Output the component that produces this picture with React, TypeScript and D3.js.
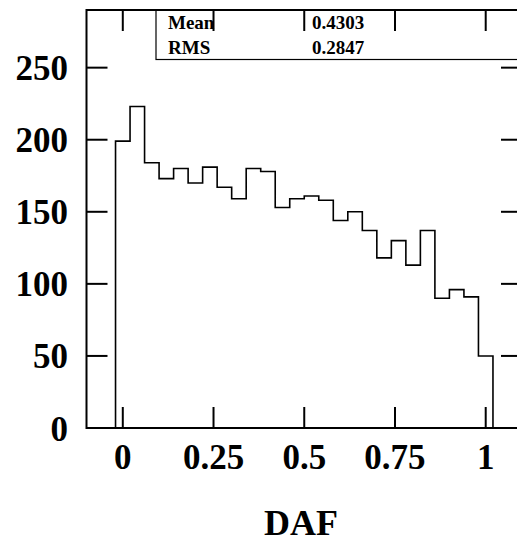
import React from "react";
import * as d3 from "d3";

// histogram of DAF, 26 bins of width 0.04 starting at -0.02
const binStart = -0.02;
const binWidth = 0.04;
const counts = [199, 223, 184, 173, 180, 170, 181, 167, 159, 180, 178, 153, 159, 161, 158, 144, 150, 137, 118, 130, 113, 137, 90, 96, 91, 50];

const xTicks = [0, 0.25, 0.5, 0.75, 1];
const xTickLabels = ["0", "0.25", "0.5", "0.75", "1"];
const yTicks = [0, 50, 100, 150, 200, 250];

const statNames = ["Mean", "RMS"];
const statValues = ["0.4303", "0.2847"];

const W = 517;
const H = 543;
const frame = { left: 86.5, right: 522, top: 10, bottom: 428 };
const font = "'Liberation Serif', 'Times New Roman', serif";

export default function App() {
  const x = d3.scaleLinear().domain([-0.1, 1.1]).range([frame.left, frame.right]);
  const y = d3.scaleLinear().domain([0, 290]).range([frame.bottom, frame.top]);

  // step outline like ROOT's histogram drawing
  const pts: [number, number][] = [[binStart, 0]];
  counts.forEach((c, i) => {
    const x0 = binStart + i * binWidth;
    pts.push([x0, c]);
    pts.push([x0 + binWidth, c]);
  });
  pts.push([binStart + counts.length * binWidth, 0]);
  const line = d3
    .line<[number, number]>()
    .x((p) => x(p[0]))
    .y((p) => y(p[1]));

  const tickLen = 21;

  return (
    <svg width={W} height={H} style={{ position: "absolute", left: 0, top: 0, background: "#fff" }}>
      <rect x={0} y={0} width={W} height={H} fill="#fff" />
      {/* stats box */}
      <rect x={156} y={frame.top} width={W} height={49.5} fill="none" stroke="#000" strokeWidth={1.2} />
      {statNames.map((n, i) => (
        <g key={n} fontFamily={font} fontWeight="bold" fontSize={19}>
          <text x={168} y={28.5 + i * 25}>{n}</text>
          <text x={312} y={28.5 + i * 25}>{statValues[i]}</text>
        </g>
      ))}

      <path d={line(pts) ?? ""} fill="none" stroke="#000" strokeWidth={1.6} />

      {/* frame */}
      <rect
        x={frame.left}
        y={frame.top}
        width={frame.right - frame.left}
        height={frame.bottom - frame.top}
        fill="none"
        stroke="#000"
        strokeWidth={2}
      />

      {/* x ticks bottom and top */}
      {xTicks.map((t, i) => (
        <g key={t}>
          <line x1={x(t)} x2={x(t)} y1={frame.bottom} y2={frame.bottom - tickLen} stroke="#000" strokeWidth={2} />
          <line x1={x(t)} x2={x(t)} y1={frame.top} y2={frame.top + tickLen} stroke="#000" strokeWidth={2} />
          <text
            x={x(t)}
            y={469}
            textAnchor="middle"
            fontFamily={font}
            fontWeight="bold"
            fontSize={35}
          >
            {xTickLabels[i]}
          </text>
        </g>
      ))}

      {/* y ticks left and right */}
      {yTicks.map((t) => (
        <g key={t}>
          <line x1={frame.left} x2={frame.left + tickLen} y1={y(t)} y2={y(t)} stroke="#000" strokeWidth={2} />
          <line x1={frame.right} x2={frame.right - tickLen} y1={y(t)} y2={y(t)} stroke="#000" strokeWidth={2} />
          <text
            x={68}
            y={y(t) + 12.5}
            textAnchor="end"
            fontFamily={font}
            fontWeight="bold"
            fontSize={35}
          >
            {t}
          </text>
        </g>
      ))}

      <text x={301} y={535} textAnchor="middle" fontFamily={font} fontWeight="bold" fontSize={36}>
        DAF
      </text>
    </svg>
  );
}
